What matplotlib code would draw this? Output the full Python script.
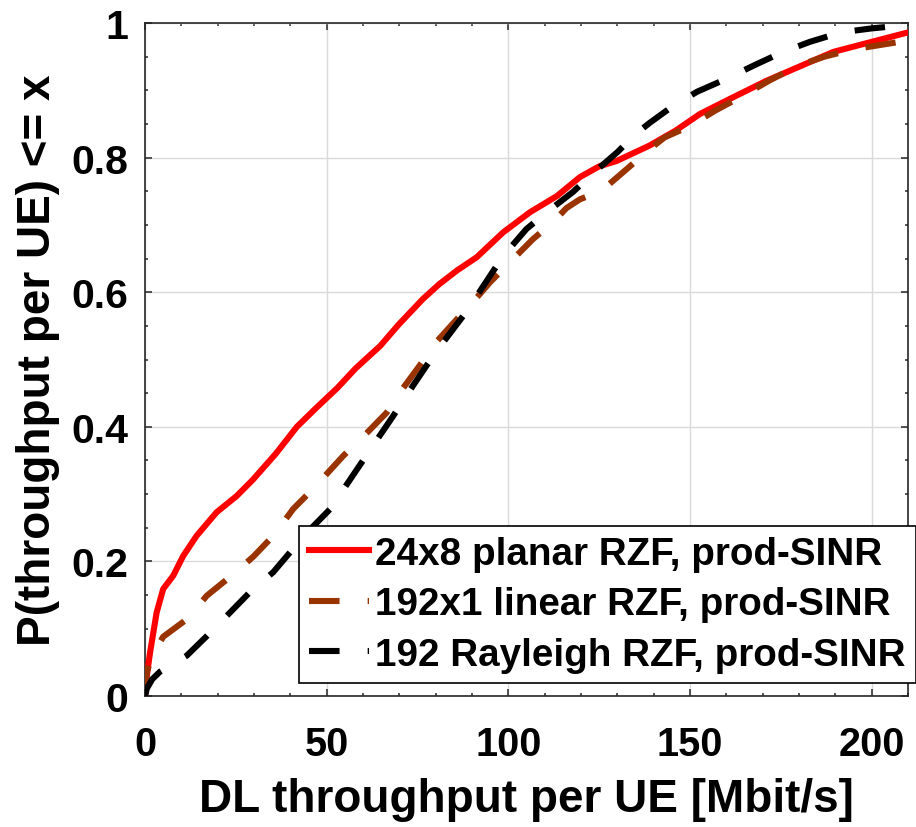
import matplotlib
matplotlib.use("Agg")
import matplotlib.pyplot as plt
import matplotlib.ticker as mticker

plt.rcParams["font.family"] = ["Liberation Sans", "DejaVu Sans"]
plt.rcParams["font.weight"] = "bold"

# CDF curves (x in Mbit/s, y = probability)
red_x = [0, 0.5, 1.4, 3.2, 5, 7.8, 10.5, 14.2, 19.7, 25.2, 29.8, 36, 41.8, 47.3, 53, 58,
         64.7, 70, 76.5, 81, 85.8, 91.3, 98.6, 106, 113.4, 119.7, 125, 129.8, 138.9, 146,
         152.8, 162, 171, 180, 189.4, 200, 210]
red_y = [0, 0.03, 0.065, 0.124, 0.159, 0.179, 0.208, 0.238, 0.273, 0.297, 0.322, 0.36, 0.40,
         0.429, 0.458, 0.487, 0.52, 0.553, 0.59, 0.612, 0.632, 0.652, 0.689, 0.719, 0.743, 0.771,
         0.787, 0.795, 0.818, 0.84, 0.865, 0.89, 0.914, 0.935, 0.957, 0.972, 0.986]

brown_x = [0, 0.5, 2, 5, 11.5, 17, 23.4, 29.8, 35.3, 40.8, 46.3, 54.6, 60, 66.5, 70, 75.6, 80,
           86.7, 91, 95, 99.6, 106.8, 112.3, 116, 119.7, 123, 127, 132.6, 139, 143, 150, 157,
           164.6, 172, 180, 187, 195, 202, 210]
brown_y = [0, 0.036, 0.06, 0.088, 0.114, 0.149, 0.177, 0.207, 0.238, 0.278, 0.308, 0.357, 0.385,
           0.421, 0.45, 0.491, 0.525, 0.565, 0.59, 0.615, 0.64, 0.679, 0.704, 0.725, 0.738, 0.745,
           0.757, 0.783, 0.813, 0.83, 0.847, 0.87, 0.892, 0.915, 0.937, 0.95, 0.961, 0.967, 0.974]

black_x = [0, 0.5, 2, 4.1, 11.5, 17, 23.4, 29, 35.3, 40, 45, 51, 55, 59, 63.5, 68.3, 73, 77.5,
           82, 87.6, 92, 98.6, 105, 110.6, 117.8, 124, 130, 135, 139, 145.4, 152, 160, 168,
           175.6, 183, 191.5, 200, 207.8, 210]
black_y = [0, 0.011, 0.025, 0.036, 0.06, 0.089, 0.124, 0.155, 0.184, 0.214, 0.245, 0.278, 0.31,
           0.342, 0.378, 0.416, 0.455, 0.491, 0.525, 0.565, 0.60, 0.654, 0.694, 0.719, 0.749,
           0.78, 0.808, 0.835, 0.852, 0.877, 0.898, 0.917, 0.938, 0.957, 0.972, 0.986, 0.992,
           0.996, 0.997]

labels = ["24x8 planar RZF, prod-SINR",
          "192x1 linear RZF, prod-SINR",
          "192 Rayleigh RZF, prod-SINR"]

x_ticks = [0, 50, 100, 150, 200]
y_ticks = [0, 0.2, 0.4, 0.6, 0.8, 1]
y_tick_labels = ["0", "0.2", "0.4", "0.6", "0.8", "1"]

fig = plt.figure(figsize=(9.16, 8.28), dpi=100)
ax = fig.add_axes([145 / 916, 131 / 828, 763 / 916, 673 / 828])

lw = 4.4
ax.plot(red_x, red_y, color="#FF0000", linewidth=lw, label=labels[0], zorder=3)
ax.plot(brown_x, brown_y, color="#993300", linewidth=lw, dashes=(5, 4.6), label=labels[1], zorder=3)
ax.plot(black_x, black_y, color="black", linewidth=lw, dashes=(5, 4.6), label=labels[2], zorder=3)

ax.set_xlim(0, 210)
ax.set_ylim(0, 1)
ax.set_xticks(x_ticks)
ax.set_yticks(y_ticks)
ax.set_yticklabels(y_tick_labels)
ax.xaxis.set_minor_locator(mticker.MultipleLocator(10))
ax.yaxis.set_minor_locator(mticker.MultipleLocator(0.05))
ax.tick_params(which="both", direction="in", top=True, right=True, color="#262626", width=1.1)
ax.tick_params(which="major", length=5)
ax.tick_params(which="minor", length=2.5)
ax.tick_params(axis="x", labelsize=28.5, pad=21)
ax.tick_params(axis="y", labelsize=29.5, pad=12)
ax.grid(True, which="major", color="#DADADA", linewidth=1.0)
ax.set_axisbelow(True)
for s in ax.spines.values():
    s.set_color("#262626")
    s.set_linewidth(1.2)

ax.set_xlabel("DL throughput per UE [Mbit/s]", fontsize=33, fontweight="bold", labelpad=10)
ax.set_ylabel("P(throughput per UE) <= x", fontsize=33, fontweight="bold", labelpad=8)

leg = ax.legend(loc="lower right", bbox_to_anchor=(1.0105, 0.02), borderaxespad=0,
                fontsize=27.8, frameon=True, fancybox=False, framealpha=1,
                handlelength=1.55, handletextpad=0.18, labelspacing=0.37, borderpad=0.26)
leg.get_frame().set_edgecolor("black")
leg.get_frame().set_linewidth(1.2)

fig.savefig("out.png", dpi=100)
